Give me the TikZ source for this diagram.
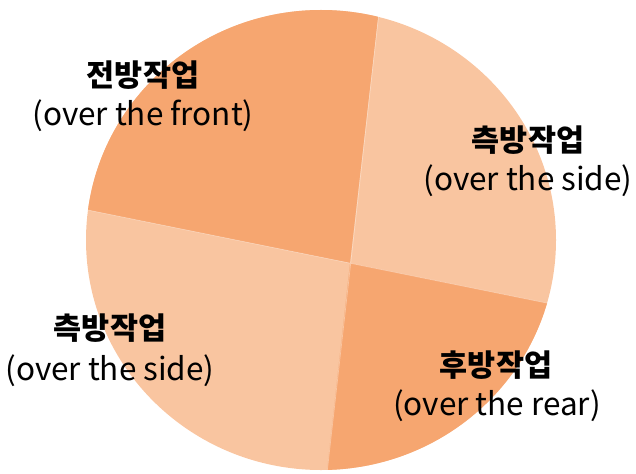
\documentclass[tikz,border=0pt]{standalone}
\usepackage{fontspec}
\setmainfont{Noto Sans CJK KR}
\usepackage{tikz}
\usetikzlibrary{positioning}

\definecolor{sliceDark}{HTML}{F6A670}
\definecolor{sliceLight}{HTML}{F9C5A0}

\tikzset{
  krlabel/.style={font=\fontsize{30.5}{32}\selectfont\bfseries, inner sep=0pt},
  enlabel/.style={font=\fontsize{31.5}{33}\selectfont, inner sep=0pt},
  seam/.style={white, opacity=0.35, line width=0.7pt}
}

\begin{document}
\begin{tikzpicture}[x=1pt, y=-1pt]
  \useasboundingbox (0,0) rectangle (636,473);
  % Pie outline
  \fill[sliceLight] (321,240) ellipse [x radius=235, y radius=230];
  \coordinate (J) at (350,263);
  \coordinate (top) at (406,-227);
  \coordinate (left) at (-174,157);
  \coordinate (right) at (744,343);
  \coordinate (bottom) at (304,677);
  % Dark slices
  \begin{scope}
    \clip (321,240) ellipse [x radius=235, y radius=230];
    \fill[sliceDark] (J) -- (top) -- (-300,-300) -- (left) -- cycle;
    \fill[sliceDark] (J) -- (right) -- (900,900) -- (bottom) -- cycle;
    \draw[seam] (top) -- (bottom);
    \draw[seam] (left) -- (right);
  \end{scope}
  % Labels
  \node[krlabel] (frontK) at (143,75) {전방작업};
  \node[enlabel] (frontE) at (143,116) {(over the front)};
  \node[krlabel] (sideRK) at (528,140) {측방작업};
  \node[enlabel] (sideRE) at (528,181) {(over the side)};
  \node[krlabel] (sideLK) at (110,328) {측방작업};
  \node[enlabel] (sideLE) at (110,371) {(over the side)};
  \node[krlabel] (rearK) at (496,365) {후방작업};
  \node[enlabel] (rearE) at (497,406) {(over the rear)};
\end{tikzpicture}
\end{document}
